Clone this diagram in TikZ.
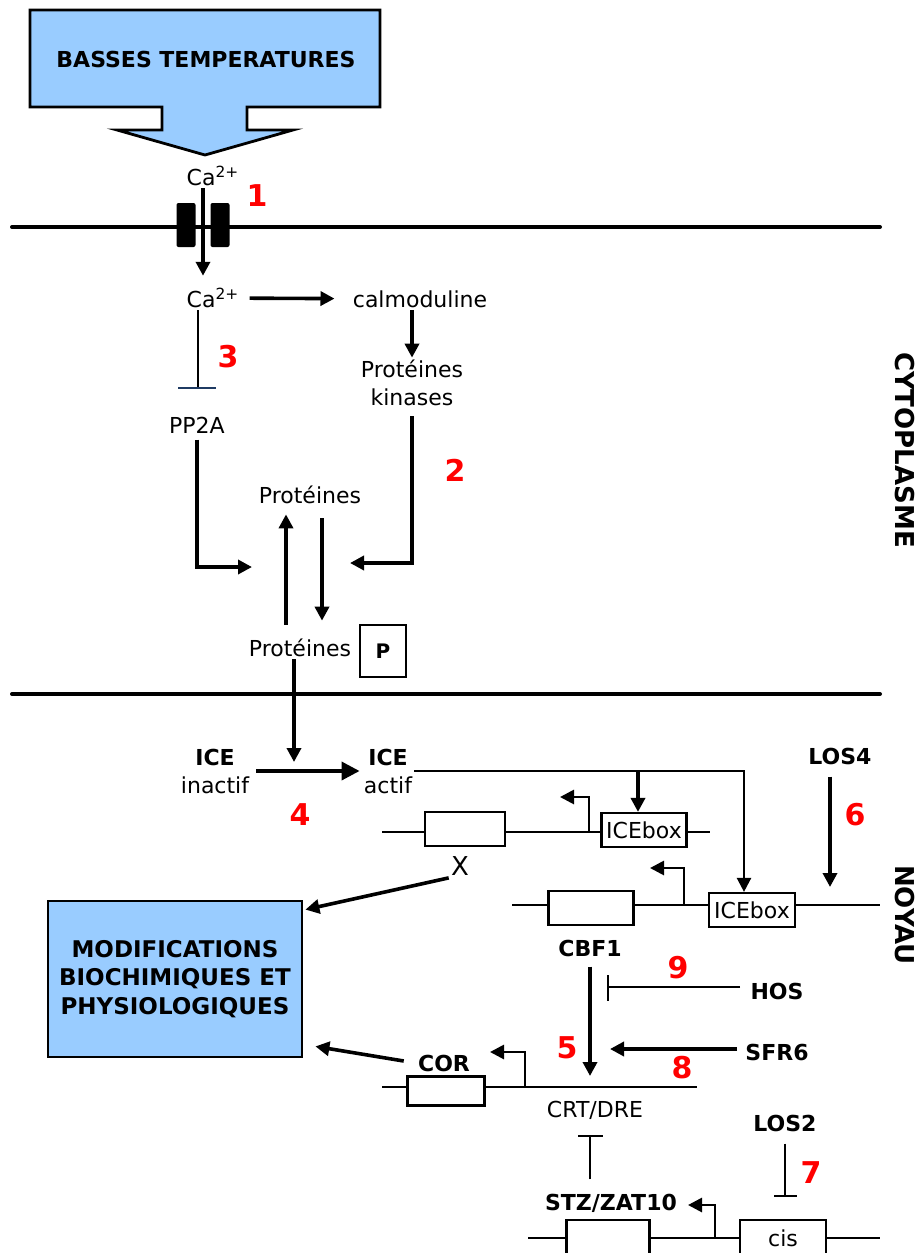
\documentclass[tikz,border=0pt]{standalone}
\usepackage{fontspec}
\setmainfont{DejaVu Sans}
\usetikzlibrary{arrows.meta,positioning,calc}
\definecolor{coldblue}{HTML}{99CCFF}
\definecolor{stepred}{HTML}{FF0000}
\definecolor{barblue}{HTML}{1F3B63}

\begin{document}
\begin{tikzpicture}[x=0.5pt,y=-0.5pt,font=\fontsize{11}{14}\selectfont,>={Triangle[length=7pt,width=7pt]}]
  \tikzstyle{lbl}=[inner sep=1pt]
  \tikzstyle{blbl}=[inner sep=1pt,font=\fontsize{11}{13}\selectfont\bfseries]
  \tikzstyle{num}=[text=stepred,font=\fontsize{15}{17}\selectfont\bfseries]
  \tikzstyle{side}=[font=\fontsize{13}{15}\selectfont\bfseries,rotate=-90]
  \tikzstyle{gene}=[draw,line width=1.1pt,fill=white,minimum height=17pt,inner sep=0.5pt]
  \tikzstyle{bluebox}=[draw,line width=1.4pt,fill=coldblue]
  \tikzstyle{lnk}=[line width=1.8pt]
  \tikzstyle{thin}=[line width=1.2pt]
  \tikzstyle{dna}=[line width=1.4pt]
  \tikzstyle{memb}=[line width=2pt,line cap=round]
  \tikzstyle{chan}=[fill,rounded corners=1pt,minimum width=9.5pt,minimum height=22pt,inner sep=0pt]
  \useasboundingbox (0,0) rectangle (922,1253);
  \clip (0,0) rectangle (922,1253);
  \draw[bluebox] (30,10) -- (380,10) -- (380,107) -- (247,107) -- (247,130) -- (293,130) -- (205,155)
    -- (117,130) -- (162,130) -- (162,107) -- (30,107) -- cycle;
  \node[blbl,font=\fontsize{11}{13}\selectfont\bfseries] (cold) at (206,59) {BASSES TEMPERATURES};
  \node[lbl] (caout) at (213,176) {Ca\textsuperscript{2+}};
  \node[num] (n1) at (257,196) {1};
  \draw[memb] (12,227) -- (880,227);
  \draw[memb] (12,694) -- (880,694);
  \node[chan] (chanl) at (186,225) {};
  \node[chan] (chanr) at (220,225) {};
  \coordinate (pore) at ($(chanl)!0.5!(chanr)$);
  \node[lbl] (cain) at (213,298) {Ca\textsuperscript{2+}};
  \draw[lnk,->] (pore |- caout.south) -- ($(pore |- cain.north)+(0,-10)$);
  \node[lbl] (calmod) at (420,299) {calmoduline};
  \draw[lnk,->] (cain) -- (calmod) [shorten <=4pt,shorten >=8pt];
  \node[lbl,align=center] (kin) at (412,383) {Protéines\\kinases};
  \draw[lnk,->] (calmod.south -| kin.north) -- (kin.north);
  \node[num] (n3) at (228,357) {3};
  \node[lbl] (pp2a) at (197,425) {PP2A};
  \coordinate (inhpp) at (198,388);
  \draw[thin] (inhpp |- cain.south) -- (inhpp);
  \draw[thin,barblue] ($(inhpp)+(-20,0)$) -- ($(inhpp)+(18,0)$);
  \node[num] (n2) at (455,470) {2};
  \node[lbl] (prot) at (310,495) {Protéines};
  \node[lbl] (protp) at (300,648) {Protéines};
  \node[draw,line width=1.1pt,minimum width=23pt,minimum height=26pt,font=\bfseries] (pbox) at (383,651) {P};
  \coordinate (jleft) at (252,567);
  \coordinate (jright) at (350,563);
  \coordinate (upx) at (286,0);
  \coordinate (downx) at (322,0);
  \draw[lnk,->] (pp2a.south) ++(0,4) |- (jleft);
  \draw[lnk,->] (kin.south) ++(0,8) |- (jright);
  \draw[lnk,->] (upx |- protp.north) ++(0,-12) -- ($(upx |- prot.south)+(0,8)$);
  \draw[lnk,->] ($(downx |- prot.south)+(0,12)$) -- ($(downx |- protp.north)+(0,-16)$);
  \node[lbl,align=center] (iceoff) at (215,771) {\textbf{ICE}\\inactif};
  \node[lbl,align=center] (iceon) at (388,771) {\textbf{ICE}\\actif};
  \node[num] (n4) at (300,815) {4};
  \draw[lnk,->,>={Triangle[length=9pt,width=9pt]}] (iceoff.east) ++(5,0) -- ($(iceon.west)+(-2,0)$);
  \coordinate (icemid) at (294,762);
  \draw[lnk,->] (protp.south -| icemid) -- (icemid);
  \draw[dna] (382,832) -- (710,832);
  \node[gene,minimum width=40pt] (xbox) at (465,829) {};
  \node[gene,minimum width=42.5pt] (icebox1) at (644,830) {ICEbox};
  \node[lbl,font=\fontsize{13}{15}\selectfont] (xlbl) at (460,866) {X};
  \coordinate (tss1) at (589,832);
  \draw[dna,->] (tss1) |- (560,797);
  \coordinate (branch) at (638,771);
  \draw[lnk,->] (branch) -- (branch |- icebox1.north);
  \draw[dna] (512,905) -- (880,905);
  \node[gene,minimum width=42.5pt] (cbfbox) at (591,908) {};
  \node[gene,minimum width=43pt] (icebox2) at (752,910) {ICEbox};
  \draw[thin,->] (iceon.east) -| ($(icebox2.north)+(-8,0)$);
  \coordinate (tss2) at (684,905);
  \draw[dna,->] (tss2) |- (650,868);
  \node[blbl] (cbf) at (590,948) {CBF1};
  \node[blbl] (los4) at (840,756) {LOS4};
  \coordinate (los4end) at (830,887);
  \draw[lnk,->] (los4end |- los4.south) ++(0,10) -- (los4end);
  \node[num] (n6) at (855,815) {6};
  \node[bluebox,minimum width=127pt,minimum height=78pt,align=center,
    font=\fontsize{11.5}{14.3}\selectfont\bfseries] (mod) at (175,979)
    {MODIFICATIONS\\BIOCHIMIQUES ET\\PHYSIOLOGIQUES};
  \draw[lnk,->] (xlbl.south west) -- ($(mod.north east)+(2,10)$);
  \coordinate (crt) at (590,1076);
  \draw[lnk,->] (cbf.south) ++(0,8) -- (crt);
  \node[num] (n9) at (678,968) {9};
  \node[blbl] (hos) at (777,991) {HOS};
  \coordinate (hosbar) at (608,987);
  \draw[thin] ($(hos.west)+(-8,-4)$) -- (hosbar);
  \draw[thin] ($(hosbar)+(0,-12)$) -- ($(hosbar)+(0,14)$);
  \node[num] (n5) at (567,1048) {5};
  \node[blbl] (sfr) at (777,1052) {SFR6};
  \draw[lnk,->] ($(sfr.west)+(-6,-3)$) -- (610,1049);
  \node[num] (n8) at (682,1068) {8};
  \draw[dna] (382,1087) -- (697,1087);
  \node[gene,minimum width=38.5pt,minimum height=14.5pt] (corbox) at (446,1091) {};
  \node[blbl] (cor) at (444,1063) {COR};
  \coordinate (tss3) at (525,1087);
  \draw[dna,->] (tss3) |- (490,1052);
  \draw[lnk,->] (cor.west) ++(-12,-2) -- ($(mod.south east)+(12,-12)$);
  \node[lbl] (crtdre) at (595,1110) {CRT/DRE};
  \node[blbl] (stz) at (611,1203) {STZ/ZAT10};
  \coordinate (stzbar) at (590,1136);
  \draw[thin] ($(stzbar |- stz.north)+(0,-12)$) -- (stzbar);
  \draw[thin] ($(stzbar)+(-12,0)$) -- ($(stzbar)+(13,0)$);
  \node[blbl] (los2) at (785,1123) {LOS2};
  \coordinate (los2bar) at (785,1196);
  \draw[thin] ($(los2.south)+(0,10)$) -- (los2bar);
  \draw[thin] ($(los2bar)+(-11,0)$) -- ($(los2bar)+(12,0)$);
  \node[num] (n7) at (811,1173) {7};
  \draw[dna] (528,1238) -- (880,1238);
  \node[gene,minimum width=41.5pt,minimum height=25pt,anchor=north] (stzbox) at (608,1219) {};
  \node[gene,minimum width=43pt,minimum height=25pt,anchor=north] (cisbox) at (783,1219) {};
  \node[lbl] (cis) at (783,1238) {cis};
  \coordinate (tss4) at (715,1238);
  \draw[dna,->] (tss4) |- (688,1205);
  \node[side] (cyto) at (905,450) {CYTOPLASME};
  \node[side] (noyau) at (905,915) {NOYAU};
\end{tikzpicture}
\end{document}
